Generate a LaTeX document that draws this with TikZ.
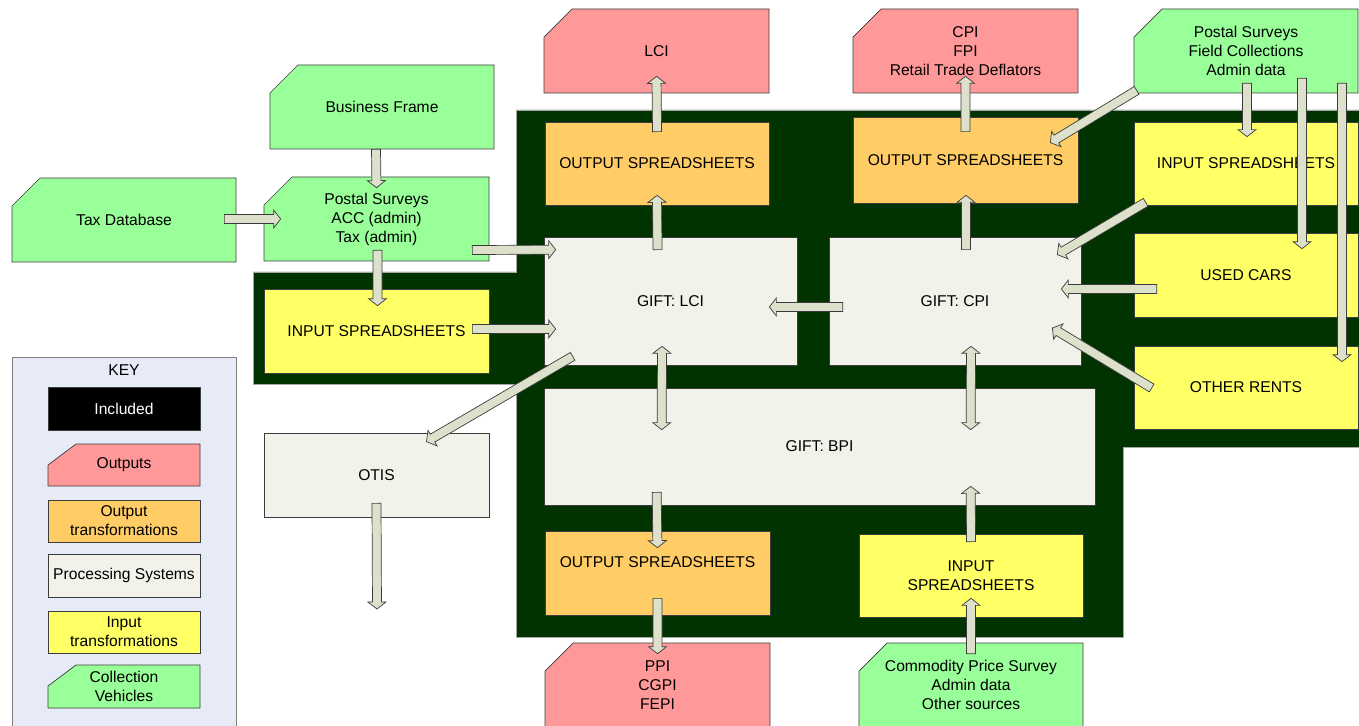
\documentclass[tikz,border=0pt]{standalone}
\usepackage{fontspec}
\setmainfont{Liberation Sans}
\usetikzlibrary{calc}
\definecolor{outcol}{HTML}{FF9999}
\definecolor{otrcol}{HTML}{FFCC66}
\definecolor{proccol}{HTML}{F2F2EA}
\definecolor{itrcol}{HTML}{FFFF66}
\definecolor{colcol}{HTML}{99FF99}
\definecolor{inclcol}{HTML}{003300}
\definecolor{keycol}{HTML}{E6EBF7}
\definecolor{arrowcol}{HTML}{DDE1CC}
\definecolor{edgecol}{HTML}{3C3C3C}
\tikzset{
  span/.style n args={4}{minimum width={(#3-#1)*0.02cm}, minimum height={(#4-#2)*0.02cm},
    at={({(#1+#3)/2},{(#2+#4)/2})}},
  boxline/.style={draw=edgecol, line width=0.4pt},
  box/.style={rectangle, boxline, inner sep=0pt, align=center},
  cuttext/.style={rectangle, inner sep=0pt, align=center},
  outtrans/.style={box, fill=otrcol},
  intrans/.style={box, fill=itrcol},
  procsys/.style={box, fill=proccol},
  included/.style={fill=inclcol, draw=gray!70, line width=0.4pt},
  keyframe/.style={box, fill=keycol, draw=gray},
  flow/.style={draw=edgecol, fill=arrowcol, line width=0.4pt,
    to path={let \p1=(\tikztostart), \p2=(\tikztotarget),
      \p3=($(\p2)!0.14cm!(\p1)$) in
      ($(\p1)!0.09cm!-90:(\p2)$) -- ($(\p3)!0.09cm!-90:(\p2)$) -- ($(\p3)!0.18cm!-90:(\p2)$)
      -- (\p2) -- ($(\p3)!0.18cm!90:(\p2)$) -- ($(\p3)!0.09cm!90:(\p2)$)
      -- ($(\p1)!0.09cm!90:(\p2)$) -- cycle}},
  flowboth/.style={draw=edgecol, fill=arrowcol, line width=0.4pt,
    to path={let \p1=(\tikztostart), \p2=(\tikztotarget),
      \p3=($(\p2)!0.14cm!(\p1)$), \p4=($(\p1)!0.14cm!(\p2)$) in
      (\p1) -- ($(\p4)!0.18cm!-90:(\p2)$) -- ($(\p4)!0.09cm!-90:(\p2)$)
      -- ($(\p3)!0.09cm!-90:(\p2)$) -- ($(\p3)!0.18cm!-90:(\p2)$)
      -- (\p2) -- ($(\p3)!0.18cm!90:(\p2)$) -- ($(\p3)!0.09cm!90:(\p2)$)
      -- ($(\p4)!0.09cm!90:(\p2)$) -- ($(\p4)!0.18cm!90:(\p2)$) -- cycle}}
}
\begin{document}
\begin{tikzpicture}[x=0.02cm, y=-0.02cm, font=\fontsize{8.9}{10.8}\selectfont]
  \newcommand{\cutbox}[8]{%
    \filldraw[boxline, fill=#2] (#3+28,#4) -- (#5,#4) -- (#5,#6) -- (#3,#6) -- (#3,#4+#7) -- cycle;
    \node[cuttext, span={#3}{#4}{#5}{#6}] (#1) {#8};}
  \useasboundingbox (0,0) rectangle (1359,726);
  \filldraw[included] (516,110) -- (1359,110) -- (1359,447) -- (1123,447) -- (1123,637)
    -- (516,637) -- (516,384) -- (253,384) -- (253,272) -- (516,272) -- cycle;

  % key
  \node[keyframe, span={12}{357}{236}{740}] (key) {};
  \node (keytitle) at (124,370) {KEY};
  \node[box, fill=black, text=white, span={48}{387}{200}{430}] (kincl) {Included};
  \cutbox{kout}{outcol}{48}{444}{200}{486}{21}{Outputs}
  \node[outtrans, span={48}{500}{200}{542}] (kotr) {Output\\transformations};
  \node[procsys, span={48}{554}{200}{597}] (kproc) {Processing Systems};
  \node[intrans, span={48}{611}{200}{653}] (kitr) {Input\\transformations};
  \cutbox{kcol}{colcol}{48}{665}{200}{708}{21}{Collection\\Vehicles}

  % collection vehicles and outputs
  \cutbox{tax}{colcol}{12}{178}{236}{262}{28}{Tax Database}
  \cutbox{frame}{colcol}{270}{65}{494}{149}{28}{Business Frame}
  \cutbox{postal}{colcol}{264}{177}{489}{261}{28}{Postal Surveys\\ACC (admin)\\Tax (admin)}
  \cutbox{field}{colcol}{1134}{9}{1358}{93}{28}{Postal Surveys\\Field Collections\\Admin data}
  \cutbox{commod}{colcol}{859}{643}{1083}{727}{28}{Commodity Price Survey\\Admin data\\Other sources}
  \cutbox{lcio}{outcol}{544}{9}{769}{93}{28}{LCI}
  \cutbox{cpio}{outcol}{853}{9}{1078}{93}{28}{CPI\\FPI\\Retail Trade Deflators}
  \cutbox{ppio}{outcol}{545}{643}{770}{727}{28}{PPI\\CGPI\\FEPI}

  % transformations
  \node[outtrans, span={545}{122}{769}{205}] (out1) {OUTPUT SPREADSHEETS};
  \node[outtrans, span={853}{117}{1078}{203}] (out2) {OUTPUT SPREADSHEETS};
  \node[outtrans, span={545}{531}{770}{615}] (out3) {\raisebox{6.2pt}[\height][\depth]{OUTPUT SPREADSHEETS}};
  \node[intrans, span={264}{289}{489}{373}] (in1) {INPUT SPREADSHEETS};
  \node[intrans, span={1134}{122}{1358}{205}] (in2) {INPUT SPREADSHEETS};
  \node[intrans, span={1134}{233}{1358}{317}] (cars) {USED CARS};
  \node[intrans, span={1134}{346}{1358}{429}] (rents) {OTHER RENTS};
  \node[intrans, span={859}{534}{1083}{617}] (in3) {INPUT\\SPREADSHEETS};

  % processing systems
  \node[procsys, span={544}{237}{797}{365}] (lci) {GIFT: LCI};
  \node[procsys, span={829}{237}{1081}{365}] (cpi) {GIFT: CPI};
  \node[procsys, span={544}{388}{1095}{505}] (bpi) {GIFT: BPI};
  \node[procsys, span={264}{433}{489}{517}] (otis) {OTIS};
  \coordinate (otisout) at (377,609);

  % flows
  \draw[flow] ($(tax.east)+(-12,-1)$) to ($(postal.west)+(17,0)$);
  \draw[flow] ($(frame.south)+(-6,0)$) to ($(postal.north)+(0,11)$);
  \draw[flow] ($(postal.south)+(1,-11)$) to ($(in1.north)+(1,17)$);
  \draw[flow] ($(postal.east)+(-17,31)$) to ($(lci.north west)+(12,13)$);
  \draw[flow] ($(in1.east)+(-17,-2)$) to ($(lci.west)+(12,28)$);
  \draw[flow] ($(lci.south west)+(29,-9)$) to ($(otis.north)+(50,9)$);
  \draw[flow] ($(otis.south)+(0,-14)$) to (otisout);
  \draw[flow] ($(lci.north)+(-13,13)$) to ($(out1.south)+(0,-10)$);
  \draw[flow] ($(out1.north)+(0,10)$) to ($(lcio.south)+(0,-17)$);
  \draw[flow] ($(cpi.north)+(11,13)$) to ($(out2.south)+(0.5,-8)$);
  \draw[flow] ($(out2.north)+(0,15)$) to ($(cpio.south)+(0,-17)$);
  \draw[flow] ($(cpi.west)+(14,6)$) to ($(lci.east)+(-28,6)$);
  \draw[flowboth] ($(lci.south)+(-8.5,-19)$) to ($(bpi.north west)+(118,42)$);
  \draw[flowboth] ($(cpi.south)+(16,-19)$) to ($(bpi.north west)+(427,42)$);
  \draw[flow] ($(bpi.south west)+(113,-13)$) to ($(out3.north)+(0,17)$);
  \draw[flow] ($(out3.south)+(0,-17)$) to ($(ppio.north)+(0,11)$);
  \draw[flow] ($(in3.north)+(0,8)$) to ($(bpi.south west)+(427,-19)$);
  \draw[flow] ($(commod.north)+(0,11)$) to ($(in3.south)+(0,-19)$);
  \draw[flow] ($(field.south west)+(3,-3)$) to ($(out2.north east)+(-28,26)$);
  \draw[flow] ($(in2.south west)+(12,-3)$) to ($(cpi.north east)+(-24,18)$);
  \draw[flow] ($(cars.west)+(23,14)$) to ($(cpi.east)+(-20,-12)$);
  \draw[flow] ($(rents.west)+(18,0.5)$) to ($(cpi.east)+(-29,27)$);
  \draw[flow] ($(field.south)+(1,-10)$) to ($(in2.north)+(1,15)$);
  \draw[flow] ($(field.south)+(56,-15)$) to ($(cars.north)+(56,16)$);
  \draw[flow] ($(field.south)+(96,-10)$) to ($(rents.north)+(96,16)$);
\end{tikzpicture}
\end{document}
